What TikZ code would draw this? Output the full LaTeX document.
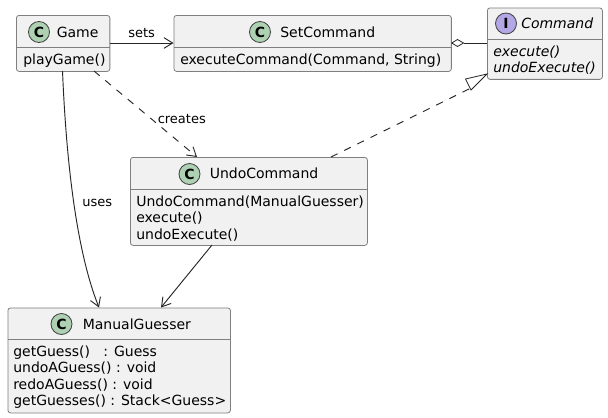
\documentclass[tikz,border=0pt]{standalone}
\usepackage{fontspec}
\setmainfont{DejaVu Sans}
\usetikzlibrary{arrows.meta,positioning}
\definecolor{boxfill}{HTML}{F1F1F1}
\definecolor{boxline}{HTML}{7F7F7F}
\definecolor{cgreen}{HTML}{ADD1B2}
\definecolor{ipurple}{HTML}{B4A7E5}
\newcommand{\umlbox}[6]{% name, x0, y0, x1, y1, ydiv
  \node[umlbox, minimum width=#4-#2, minimum height=#5-#3, anchor=north west] (#1) at (#2,#3) {};
  \coordinate (#1div) at (#2,#6);
  \draw[boxline, line width=0.6pt] (#2,#6) -- (#4,#6);
}
\tikzset{
  x=0.75pt, y=-0.75pt,
  umlbox/.style={draw=boxline, fill=boxfill, rounded corners=2pt, line width=0.6pt, inner sep=0pt, x=0.75pt},
  member/.style={anchor=base west, inner sep=0pt, font=\fontsize{10.5}{12}\selectfont, text=black},
  titletext/.style={member},
  edgelabel/.style={anchor=base west, inner sep=0pt, font=\fontsize{9.75}{12}\selectfont, text=black},
  spot/.style={circle, draw=black!75, line width=0.6pt, minimum size=15.75pt, inner sep=0pt, font=\bfseries\fontsize{10.5}{12}\selectfont},
  conn/.style={draw=black!85, line width=0.7pt},
  openarrow/.style={-{Straight Barb[length=6.5pt,width=8pt,line width=0.7pt]}},
  dashedline/.style={dash pattern=on 5.5pt off 5.5pt},
}
\begin{document}
\begin{tikzpicture}
\useasboundingbox (0,0) rectangle (608,418);
\fill[white] (0,0) rectangle (608,418);
% boxes
\node[umlbox, minimum width=70.1pt, minimum height=42pt, anchor=north west] (game) at (16,15) {};
\node[umlbox, minimum width=208.1pt, minimum height=42pt, anchor=north west] (setcmd) at (173.5,15) {};
\node[umlbox, minimum width=86.25pt, minimum height=53.6pt, anchor=north west] (cmd) at (487,7.5) {};
\node[umlbox, minimum width=177.75pt, minimum height=66pt, anchor=north west] (undo) at (130,157) {};
\node[umlbox, minimum width=166.9pt, minimum height=78.75pt, anchor=north west] (guesser) at (7.5,307.5) {};
% dividers
\draw[boxline, line width=0.6pt] (game.west |- 0,47.5) -- (game.east |- 0,47.5);
\draw[boxline, line width=0.6pt] (setcmd.west |- 0,47.5) -- (setcmd.east |- 0,47.5);
\draw[boxline, line width=0.6pt] (cmd.west |- 0,39.5) -- (cmd.east |- 0,39.5);
\draw[boxline, line width=0.6pt] (undo.west |- 0,189.5) -- (undo.east |- 0,189.5);
\draw[boxline, line width=0.6pt] (guesser.west |- 0,339.5) -- (guesser.east |- 0,339.5);
% spots
\node[spot, fill=cgreen] (sgame) at (39,32) {C};
\node[spot, fill=cgreen] (sset) at (260,32) {C};
\node[spot, fill=ipurple] (scmd) at (506,23.5) {I};
\node[spot, fill=cgreen] (sundo) at (189.5,174) {C};
\node[spot, fill=cgreen] (sguess) at (61.5,324) {C};
% titles
\node[titletext] (tgame) at (56.5,37) {Game};
\node[titletext] (tset) at (280,37) {SetCommand};
\node[titletext] (tcmd) at (521,28.5) {\itshape Command};
\node[titletext] (tundo) at (209.5,178.5) {UndoCommand};
\node[titletext] (tguess) at (82.5,329) {ManualGuesser};
% members
\node[member] (m1) at (23,64) {playGame()};
\node[member] (m2) at (180,64) {executeCommand(Command, String)};
\node[member] (m3) at (493,56) {\itshape execute()};
\node[member] (m4) at (493,72) {\itshape undoExecute()};
\node[member] (m5) at (136,206) {UndoCommand(ManualGuesser)};
\node[member] (m6) at (136,222) {execute()};
\node[member] (m7) at (136,239) {undoExecute()};
\node[member] (m8) at (13,356) {getGuess()\hspace{0.95em}: Guess};
\node[member] (m9) at (13,372) {undoAGuess() : void};
\node[member] (m10) at (13,389) {redoAGuess() : void};
\node[member] (m11) at (13,405) {getGuesses() : Stack<Guess>};
% connector anchors
\coordinate (gameR) at (game.east |- 0,43);
\coordinate (setL) at (setcmd.west |- 0,43);
\coordinate (setR) at (setcmd.east |- 0,43);
\coordinate (cmdL) at (cmd.west |- 0,43);
\coordinate (gameB1) at (62.5,71);
\coordinate (gameB2) at (94,71);
\coordinate (undoT1) at (197,157);
\coordinate (undoT2) at (331,157);
\coordinate (cmdC) at (487,74);
\coordinate (undoB) at (212,245);
\coordinate (gTop1) at (99,307.5);
\coordinate (gTop2) at (161,307.5);
% connectors
\draw[conn, openarrow] (gameR) -- (setL);
\draw[conn] (cmdL) -- (463.5,43);
\draw[conn, fill=white, line width=0.6pt] (setR) -- (457.5,39.5) -- (463.5,43) -- (457.5,46.5) -- cycle;
\draw[conn, openarrow, dashedline] (gameB2) -- (undoT1);
\draw[conn, openarrow] (gameB1) .. controls (65,130) and (72,240) .. (gTop1);
\draw[conn, openarrow] (undoB) -- (gTop2);
\draw[conn, dashedline] (undoT2) -- (471,88);
\draw[conn, fill=white, line width=0.6pt] (cmdC) -- (465.5,79) -- (471,90) -- cycle;
% labels
\node[edgelabel] (lsets) at (128,37) {sets};
\node[edgelabel] (lcreates) at (157.5,123) {creates};
\node[edgelabel] (luses) at (82,206) {uses};
\end{tikzpicture}
\end{document}
